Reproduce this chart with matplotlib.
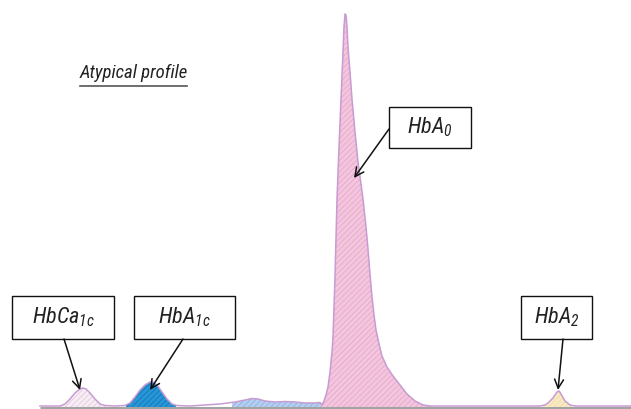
import matplotlib
matplotlib.use("Agg")
import matplotlib.pyplot as plt
from matplotlib.patches import Rectangle
from matplotlib import font_manager
import numpy as np

# ---- data (x position, signal height) ----
trace_x = [40, 60, 65, 70, 75, 80, 83, 86, 90, 95, 100, 105, 115, 125, 130, 135, 140,
           145, 150, 153, 157, 162, 167, 172, 177, 190, 205, 220, 235, 245, 252, 258,
           265, 275, 285, 295, 305, 315, 320, 322, 324, 326, 328, 330, 332, 333, 335,
           337, 339, 341, 343, 344, 345, 346, 347, 348, 350, 352, 355, 358, 363, 366,
           368, 370, 372, 374, 376, 379, 382, 387, 393, 400, 407, 415, 423, 430, 445,
           540, 545, 548, 553, 557, 559, 561, 565, 570, 575, 631]
trace_y = [1, 1, 3, 8, 14, 18, 19, 18, 14, 8, 3, 1.5, 1, 1.5, 4, 10, 17,
           22, 25, 25, 22, 15, 8, 3, 1.5, 1, 2, 3, 5, 7, 8.5, 8,
           6, 5, 5.5, 5, 4, 4, 4.5, 2, 6, 12, 20, 35, 55, 70, 130,
           208, 260, 308, 355, 380, 393, 392, 380, 360, 335, 308, 275, 245, 208, 180,
           158, 133, 110, 92, 77, 63, 51, 40, 31, 22, 13, 6, 2, 1, 1,
           1, 2, 4, 9, 15, 16, 13, 6, 2, 1, 1]

peak_names = ["HbCa$_{1c}$", "HbA$_{1c}$", "minor", "HbA$_0$", "HbA$_2$"]
peak_ranges = [(60, 106), (126, 176), (232, 322), (321, 432), (543, 572)]
peak_colors = ["#f7eef5", "#2596d6", "#b5cff0", "#f3c6de", "#f8ebc4"]
hatch_colors = ["#e6c9de", "#1b74b8", "#8fb1e6", "#e7a8cb", "#f1dca0"]

# ---- figure ----
fig = plt.figure(figsize=(6.31, 4.10), dpi=100)
ax = fig.add_axes([0, 0, 1, 1])
ax.set_xlim(0, 631)
ax.set_ylim(-2, 408)
ax.axis("off")

fams = {f.name for f in font_manager.fontManager.ttflist}
narrow = "Roboto Condensed" if "Roboto Condensed" in fams else "DejaVu Sans"
plt.rcParams["mathtext.fontset"] = "custom"
plt.rcParams["mathtext.rm"] = narrow + ":italic"
plt.rcParams["mathtext.it"] = narrow + ":italic"
plt.rcParams["hatch.linewidth"] = 0.6

xs = np.array(trace_x, dtype=float)
ys = np.array(trace_y, dtype=float)
xf = np.linspace(xs.min(), xs.max(), 3000)
yf = np.interp(xf, xs, ys)

for (a, b), fc, hc in zip(peak_ranges, peak_colors, hatch_colors):
    m = (xf >= a) & (xf <= b)
    ax.fill_between(xf[m], 0, yf[m], facecolor=fc, edgecolor=hc,
                    hatch="//////", linewidth=0, zorder=2)

# baseline
ax.plot([40, 631], [-0.5, -0.5], color="#a3a3a3", lw=2.2, zorder=3,
        solid_capstyle="butt")
# trace
ax.plot(xs, ys, color="#c89bd2", lw=1.1, zorder=4)

# ---- labels ----
txt_kw = dict(family=narrow, style="italic", color="#222222", ha="center",
              va="center", fontsize=16, zorder=6)

boxes = [  # (x0, y0, w, h, label, arrow start, arrow end)
    (12, 68, 102, 43, peak_names[0], (64, 68), (80, 17)),
    (134, 68, 101, 43, peak_names[1], (183, 68), (150, 17)),
    (389, 259, 82, 41, peak_names[3], (389, 278), (354, 229)),
    (521, 68, 71, 43, peak_names[4], (563, 68), (558, 17)),
]
for x0, y0, w, h, lab, s, e in boxes:
    ax.add_patch(Rectangle((x0, y0), w, h, facecolor="white", edgecolor="#111111",
                           lw=1.0, zorder=5))
    ax.text(x0 + w / 2, y0 + h / 2 + 1, lab, **txt_kw)
    ax.annotate("", xy=e, xytext=s,
                arrowprops=dict(arrowstyle="->", color="#111111", lw=1.1,
                                mutation_scale=16, shrinkA=0, shrinkB=0),
                zorder=6)

ax.text(80, 335, "Atypical profile", family=narrow, style="italic",
        color="#222222", ha="left", va="center", fontsize=13.5)
ax.plot([80, 187], [321, 321], color="#555555", lw=1.2)

fig.savefig("out.png", dpi=100)
